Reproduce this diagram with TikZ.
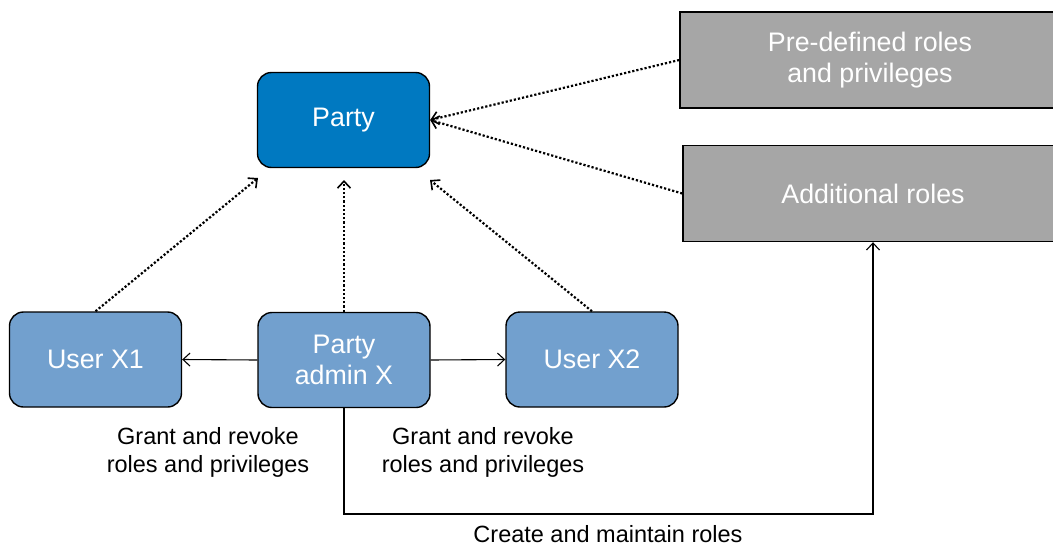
\documentclass[tikz,border=0pt]{standalone}
\usepackage{fontspec}
\setmainfont{Liberation Sans}
\usetikzlibrary{arrows.meta}
\definecolor{partyblue}{RGB}{0,121,193}
\definecolor{userblue}{RGB}{114,160,206}
\definecolor{roles}{RGB}{166,166,166}
\tikzset{
  boxtext/.style={text=white, font=\fontsize{26.8}{31.5}\selectfont, align=center},
  rbox/.style={draw=black, line width=1.4pt, rounded corners=14pt, minimum width=172pt, minimum height=95pt, inner sep=0pt, boxtext},
  gbox/.style={draw=black, line width=1.4pt, fill=roles, minimum width=380pt, minimum height=96pt, inner sep=0pt, boxtext},
  dotarrow/.style={line width=2.2pt, dash pattern=on 2.2pt off 2pt, -{Straight Barb[length=7pt,width=13pt,line width=1.6pt]}},
  solarrow/.style={line width=1.1pt, -{Straight Barb[length=7pt,width=13pt,line width=1.1pt]}},
  lbl/.style={font=\fontsize{23.5}{28}\selectfont, align=center, text=black}
}
\begin{document}
\begin{tikzpicture}[x=1pt,y=-1pt]
\useasboundingbox (0,0) rectangle (1053,544);
\node[rbox, fill=partyblue] (party) at (343.5,120) {Party};
\node[rbox, fill=userblue] (u1) at (95.5,359.5) {User X1};
\node[rbox, fill=userblue] (adm) at (344,360) {Party\\admin X};
\node[rbox, fill=userblue] (u2) at (592,359.5) {User X2};
\node[gbox] (pre) at (870,60) {Pre-defined roles\\and privileges};
\node[gbox] (add) at (873,193.5) {Additional roles};

\coordinate (pl) at (258,178);
\coordinate (pm) at (344,180);
\coordinate (pr) at (430,180);
\draw[dotarrow] (u1.north) -- (pl);
\draw[dotarrow] (adm.north) -- (pm);
\draw[dotarrow] (u2.north) -- (pr);
\draw[dotarrow] (pre.west) -- (party.east);
\draw[dotarrow] (add.west) -- (party.east);

\draw[solarrow] (adm.west) -- (u1.east);
\draw[solarrow] (adm.east) -- (u2.west);
\coordinate (c1) at (344,514);
\draw[solarrow] (adm.south) -- (c1) -| (add.south);

\node[lbl] (l1) at (208,452) {Grant and revoke\\roles and privileges};
\node[lbl] (l2) at (483,452) {Grant and revoke\\roles and privileges};
\node[lbl, anchor=base] (l3) at (608,542) {Create and maintain roles};
\end{tikzpicture}
\end{document}
